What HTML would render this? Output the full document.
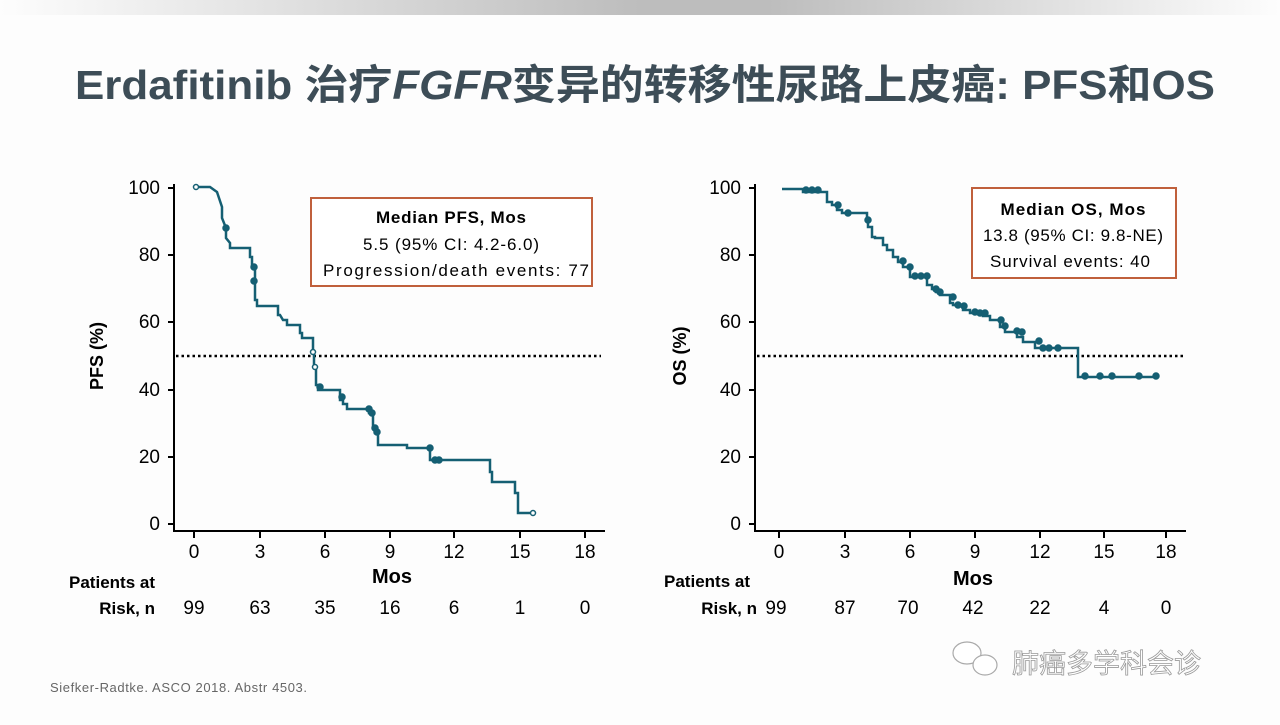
<!DOCTYPE html>
<html><head><meta charset="utf-8"><style>
body{margin:0;width:1280px;height:720px;background:#fdfdfd;overflow:hidden;font-family:"Liberation Sans","Noto Sans CJK SC",sans-serif}
</style></head><body>
<svg width="1280" height="720" xmlns="http://www.w3.org/2000/svg" font-family="Liberation Sans, Noto Sans CJK SC, sans-serif">
<defs><linearGradient id="g" x1="0" x2="1"><stop offset="0" stop-color="#fdfdfd"/><stop offset="0.5" stop-color="#bdbdbd"/><stop offset="0.6" stop-color="#bdbdbd"/><stop offset="1" stop-color="#fdfdfd"/></linearGradient></defs>
<rect x="0" y="0" width="1280" height="15" fill="url(#g)"/>
<text x="75" y="99" font-size="41" font-weight="bold" fill="#3d4d57" textLength="1140" lengthAdjust="spacingAndGlyphs">Erdafitinib 治疗<tspan font-style="italic">FGFR</tspan>变异的转移性尿路上皮癌: PFS和OS</text>

<g stroke="#000" stroke-width="2" fill="none">
<path d="M174 184V531H605"/>
<path d="M168 188H174M168 255H174M168 322H174M168 390H174M168 457H174M168 524H174"/>
<path d="M194 531v7M260 531v7M325 531v7M390 531v7M454 531v7M520 531v7M585 531v7"/>
<path d="M755 184V531H1186"/>
<path d="M749 188H755M749 255H755M749 322H755M749 390H755M749 457H755M749 524H755"/>
<path d="M779 531v7M845 531v7M910 531v7M975 531v7M1040 531v7M1104 531v7M1166 531v7"/>
</g>
<g stroke="#000" stroke-width="2.5" stroke-dasharray="2.5 3"><path d="M176 356H601"/><path d="M757 356H1186"/></g>

<g font-size="19" fill="#000" text-anchor="end">
<text x="160" y="194">100</text><text x="160" y="261">80</text><text x="160" y="328">60</text><text x="160" y="396">40</text><text x="160" y="463">20</text><text x="160" y="530">0</text>
<text x="741" y="194">100</text><text x="741" y="261">80</text><text x="741" y="328">60</text><text x="741" y="396">40</text><text x="741" y="463">20</text><text x="741" y="530">0</text>
</g>
<g font-size="19" fill="#000" text-anchor="middle">
<text x="194" y="558">0</text><text x="260" y="558">3</text><text x="325" y="558">6</text><text x="390" y="558">9</text><text x="454" y="558">12</text><text x="520" y="558">15</text><text x="585" y="558">18</text>
<text x="779" y="558">0</text><text x="845" y="558">3</text><text x="910" y="558">6</text><text x="975" y="558">9</text><text x="1040" y="558">12</text><text x="1104" y="558">15</text><text x="1166" y="558">18</text>
<text x="194" y="614">99</text><text x="260" y="614">63</text><text x="325" y="614">35</text><text x="390" y="614">16</text><text x="454" y="614">6</text><text x="520" y="614">1</text><text x="585" y="614">0</text>
<text x="776" y="614">99</text><text x="845" y="614">87</text><text x="908" y="614">70</text><text x="973" y="614">42</text><text x="1040" y="614">22</text><text x="1104" y="614">4</text><text x="1166" y="614">0</text>
<text x="392" y="583" font-weight="bold" font-size="20">Mos</text>
<text x="973" y="585" font-weight="bold" font-size="20">Mos</text>
</g>
<g font-size="17" font-weight="bold" fill="#000" text-anchor="end">
<text x="155" y="588">Patients at</text><text x="155" y="614">Risk, n</text>
<text x="750" y="587">Patients at</text><text x="757" y="614">Risk, n</text>
</g>
<text transform="translate(103,356) rotate(-90)" font-size="18" font-weight="bold" text-anchor="middle">PFS (%)</text>
<text transform="translate(686,356) rotate(-90)" font-size="18" font-weight="bold" text-anchor="middle">OS (%)</text>

<rect x="311" y="198" width="281" height="88" fill="#fff" stroke="#c0603c" stroke-width="2"/>
<g font-size="17" text-anchor="middle" fill="#000"><text x="451" y="223" font-weight="bold" textLength="150">Median PFS, Mos</text><text x="451" y="250" textLength="176">5.5 (95% CI: 4.2-6.0)</text><text x="456" y="276" textLength="266">Progression/death  events: 77</text></g>
<rect x="972" y="188" width="204" height="90" fill="#fff" stroke="#c0603c" stroke-width="2"/>
<g font-size="17" text-anchor="middle" fill="#000"><text x="1073" y="215" font-weight="bold" textLength="145">Median OS, Mos</text><text x="1073" y="241" textLength="180">13.8 (95% CI: 9.8-NE)</text><text x="1070" y="267" textLength="160">Survival events: 40</text></g>

<g stroke="#155f73" stroke-width="2.5" fill="none">
<path d="M195 187H210L217 192L222 207V218L226 228V238L230 243V248H250V257L252 257V267H255V300H257V306H267H278V315H280L283 320H287V325H300V333H302V338H313V353H314V367H316V385H318V390H340V400H343V404H347V409H369V413H373V428H375V433H378V445H407V448H430V460H490V472H492V482H515V493H518V513H533"/>
<path d="M782 189H803V192H827V202H832V205H837V210H842V213H867V220H868V227H872V237H875V238H883V245H887V250H893V257H898V262H903V267H910V277H927V285H932V289H936V292H940V295H950V303H953V305H963V310H970V313H983V316H990V320H1000V327H1005V332H1017V337H1023V342H1035V348H1078V377H1157"/>
</g>
<g fill="#155f73" stroke="#155f73" stroke-width="1.5">
<circle cx="196" cy="187" r="2.5" fill="#fff"/><circle cx="226" cy="228" r="3"/><circle cx="254" cy="267" r="3"/><circle cx="254" cy="281" r="3"/>
<circle cx="313" cy="352" r="2.5" fill="#fff"/><circle cx="315" cy="367" r="2.5" fill="#fff"/><circle cx="320" cy="387" r="3"/><circle cx="342" cy="397" r="3"/>
<circle cx="369" cy="409" r="3"/><circle cx="372" cy="413" r="3"/><circle cx="375" cy="428" r="3"/><circle cx="377" cy="432" r="3"/>
<circle cx="430" cy="448" r="3"/><circle cx="435" cy="460" r="3"/><circle cx="439" cy="460" r="3"/><circle cx="533" cy="513" r="2.5" fill="#fff"/>
<circle cx="806" cy="190" r="3"/><circle cx="812" cy="190" r="3"/><circle cx="818" cy="190" r="3"/><circle cx="838" cy="205" r="3"/><circle cx="848" cy="213" r="3"/>
<circle cx="868" cy="220" r="3"/><circle cx="903" cy="261" r="3"/><circle cx="910" cy="267" r="3"/><circle cx="915" cy="276" r="3"/><circle cx="921" cy="276" r="3"/><circle cx="927" cy="276" r="3"/>
<circle cx="936" cy="289" r="3"/><circle cx="940" cy="292" r="3"/><circle cx="953" cy="297" r="3"/><circle cx="958" cy="305" r="3"/><circle cx="964" cy="306" r="3"/>
<circle cx="975" cy="312" r="3"/><circle cx="980" cy="313" r="3"/><circle cx="985" cy="313" r="3"/><circle cx="1001" cy="320" r="3"/><circle cx="1005" cy="326" r="3"/>
<circle cx="1017" cy="331" r="3"/><circle cx="1022" cy="332" r="3"/><circle cx="1039" cy="341" r="3"/><circle cx="1043" cy="348" r="3"/><circle cx="1049" cy="348" r="3"/><circle cx="1058" cy="348" r="3"/>
<circle cx="1085" cy="376" r="3"/><circle cx="1100" cy="376" r="3"/><circle cx="1112" cy="376" r="3"/><circle cx="1139" cy="376" r="3"/><circle cx="1156" cy="376" r="3"/>
</g>

<text x="50" y="692" font-size="13" fill="#666" textLength="257">Siefker-Radtke. ASCO 2018. Abstr 4503.</text>
<g stroke="#aaa" stroke-width="1.2" fill="#fff"><ellipse cx="967" cy="653" rx="14" ry="11"/><ellipse cx="985" cy="665" rx="12" ry="10"/></g>
<text x="1012" y="673" font-size="27" fill="#fff" stroke="#999" stroke-width="0.8">肺癌多学科会诊</text>
</svg>
</body></html>
